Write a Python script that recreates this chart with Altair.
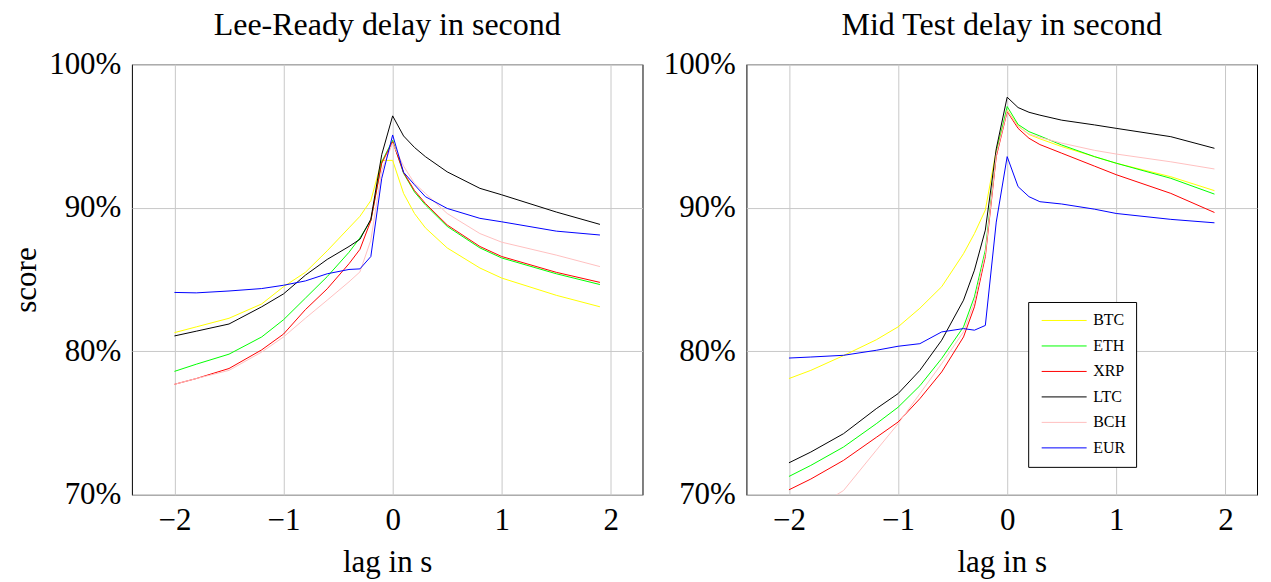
import altair as alt
import pandas as pd

series = ["BTC", "ETH", "XRP", "LTC", "BCH", "EUR"]
colors = ["#ffff00", "#00ff00", "#ff0000", "#000000", "#ffc0c0", "#0000ff"]

lags = [-2.0, -1.8, -1.5, -1.2, -1.0, -0.8, -0.6, -0.4, -0.3, -0.2, -0.1,
        0.0, 0.1, 0.2, 0.3, 0.5, 0.8, 1.0, 1.5, 1.9]

x_ticks = [-2, -1, 0, 1, 2]
y_ticks = [70, 80, 90, 100]

# Lee-Ready panel
lr_btc = [81.3, 81.7, 82.3, 83.3, 84.5, 85.5, 87.0, 88.6, 89.4, 90.5, 93.3,
          93.3, 91.0, 89.6, 88.6, 87.2, 85.8, 85.1, 83.9, 83.1]
lr_eth = [78.6, 79.1, 79.8, 81.0, 82.2, 83.7, 85.2, 86.9, 87.9, 89.1, 93.2,
          94.7, 92.4, 91.1, 90.2, 88.7, 87.2, 86.5, 85.4, 84.65]
lr_xrp = [77.7, 78.1, 78.8, 80.1, 81.2, 82.9, 84.35, 86.1, 87.1, 89.1, 93.1,
          94.6, 92.45, 91.2, 90.3, 88.8, 87.3, 86.6, 85.5, 84.8]
lr_ltc = [81.07, 81.4, 81.9, 83.1, 84.0, 85.3, 86.4, 87.3, 87.8, 89.2, 93.7,
          96.4, 95.0, 94.2, 93.56, 92.5, 91.35, 90.9, 89.7, 88.84]
lr_bch = [77.7, 78.1, 78.67, 79.95, 81.0, 82.3, 83.56, 84.84, 85.53, 87.74, 92.6,
          94.5, 92.9, 91.7, 91.0, 89.6, 88.2, 87.6, 86.7, 85.9]
lr_eur = [84.1, 84.07, 84.2, 84.37, 84.6, 84.9, 85.4, 85.7, 85.74, 86.6, 92.05,
          95.07, 92.47, 91.6, 90.77, 89.95, 89.26, 89.02, 88.37, 88.1]

# Mid Test panel
mt_btc = [78.1, 78.67, 79.7, 80.8, 81.7, 83.0, 84.5, 86.8, 88.2, 89.84, 94.0,
          96.8, 95.7, 95.1, 94.8, 94.26, 93.56, 93.1, 92.16, 91.19]
mt_eth = [71.28, 72.05, 73.33, 74.95, 76.1, 77.6, 79.5, 81.7, 83.8, 87.05, 93.8,
          97.05, 95.8, 95.3, 95.0, 94.37, 93.56, 93.1, 92.05, 90.95]
mt_xrp = [70.35, 71.1, 72.4, 74.0, 75.07, 76.7, 78.56, 81.0, 83.1, 86.6, 93.56,
          96.7, 95.53, 94.84, 94.4, 93.8, 92.9, 92.3, 91.0, 89.67]
mt_ltc = [72.23, 72.98, 74.26, 76.0, 77.05, 78.67, 80.77, 83.56, 85.65, 88.44, 94.1,
          97.7, 96.98, 96.65, 96.45, 96.1, 95.77, 95.53, 94.95, 94.14]
mt_bch = [67.9, 68.9, 70.3, 73.1, 74.95, 77.05, 79.14, 81.35, 83.44, 86.8, 93.7,
          96.77, 95.65, 95.14, 94.9, 94.5, 94.0, 93.74, 93.2, 92.7]
mt_eur = [79.53, 79.6, 79.72, 80.07, 80.35, 80.53, 81.35, 81.58, 81.47, 81.8, 89.0,
          93.56, 91.47, 90.77, 90.42, 90.26, 89.9, 89.6, 89.19, 88.95]

FONT = "Liberation Serif"


def make_df(cols):
    rows = []
    for name, vals in zip(series, cols):
        for x, v in zip(lags, vals):
            rows.append({"lag": x, "score": v, "series": name})
    return pd.DataFrame(rows)


legend = alt.Legend(
    title=None, orient="none", legendX=897, legendY=238,
    symbolType="stroke", symbolSize=2025, symbolStrokeWidth=1,
    symbolOffset=3, clipHeight=17,
    labelFont=FONT, labelFontSize=16, labelColor="black",
    rowPadding=8.5, padding=10, labelOffset=6,
    strokeColor="black", fillColor="white",
)


def panel(cols, title, ytitle):
    df = make_df(cols)
    yaxis = alt.Axis(values=y_ticks, labelExpr="datum.value + '%'",
                     titlePadding=6)
    y = alt.Y("score:Q", scale=alt.Scale(domain=[70, 100], nice=False, zero=False),
              axis=yaxis, title=ytitle)
    return alt.Chart(df).mark_line(strokeWidth=1, clip=True).encode(
        x=alt.X("lag:Q", scale=alt.Scale(domain=[-2.39, 2.29], nice=False, zero=False),
                axis=alt.Axis(values=x_ticks, titlePadding=12),
                title="lag in s"),
        y=y,
        color=alt.Color("series:N", scale=alt.Scale(domain=series, range=colors),
                        legend=legend),
    ).properties(
        width=511, height=431,
        title=alt.TitleParams(title, font=FONT, fontSize=32, fontWeight="normal",
                              color="black", offset=6),
    )


left = panel([lr_btc, lr_eth, lr_xrp, lr_ltc, lr_bch, lr_eur],
             "Lee-Ready delay in second", "score")
right = panel([mt_btc, mt_eth, mt_xrp, mt_ltc, mt_bch, mt_eur],
              "Mid Test delay in second", None)

chart = alt.hconcat(left, right, spacing=19).properties(
    padding={"left": 2, "top": 0, "right": 5, "bottom": 0}
).configure_view(
    stroke="black", strokeWidth=1
).configure_axis(
    labelFont=FONT, labelFontSize=31, labelColor="black",
    titleFont=FONT, titleFontSize=31, titleFontWeight="normal", titleColor="black",
    gridColor="#c8c8c8", gridWidth=1, domain=False, ticks=False,
    labelPadding=11,
)

chart.save("out.html", embed_options={"renderer": "svg", "actions": False})
